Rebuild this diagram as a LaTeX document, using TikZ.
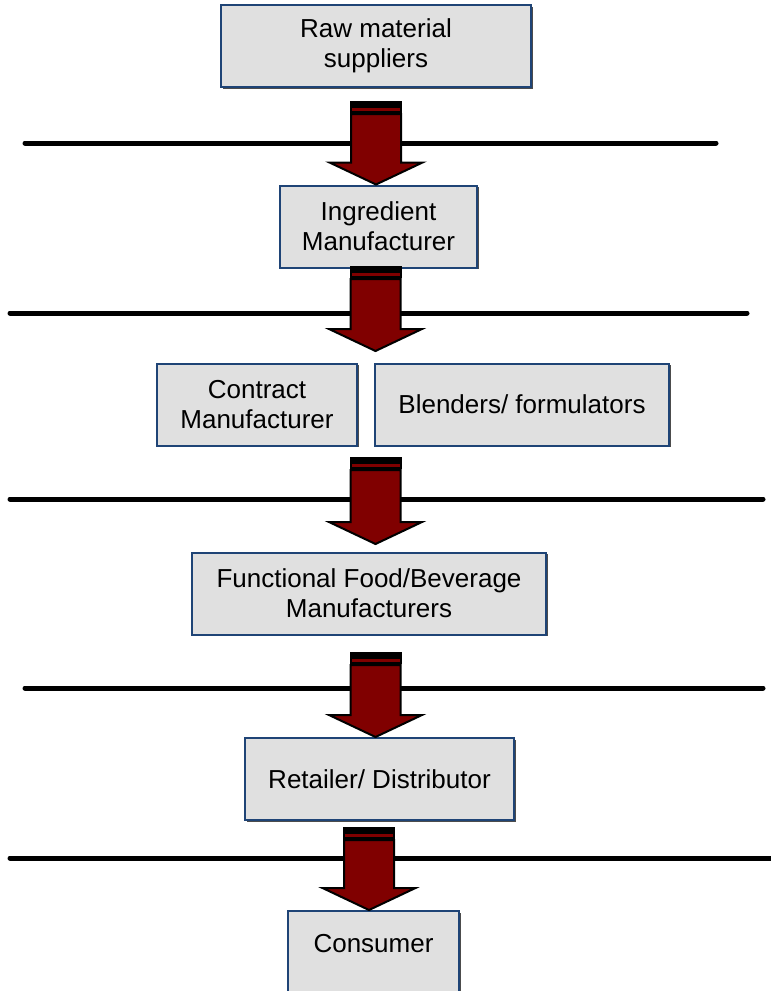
\documentclass[tikz,border=0pt]{standalone}
\usepackage{fontspec}
\setmainfont{Liberation Sans}
\usetikzlibrary{calc,shadows}
\definecolor{edge}{RGB}{31,68,118}
\definecolor{panel}{RGB}{224,224,224}
\definecolor{wine}{RGB}{128,0,0}
\tikzset{
  stage/.style={draw=edge,line width=2pt,fill=panel,inner sep=0pt,align=center,
    font=\fontsize{26}{30}\selectfont,minimum height=82pt,
    drop shadow={shadow xshift=1.5pt,shadow yshift=-1.5pt,fill=black!70,opacity=1}},
  tier/.style={line width=5pt,line cap=round},
  stripe/.style={draw=black,line width=2pt,fill=wine},
}
% striped block arrow: #1 tail top, #2 tip
\newcommand{\flowarrow}[2]{%
  \draw[stripe,fill=black] ($(#1)+(-25,0)$) rectangle ($(#1)+(25,4)$);
  \draw[stripe] ($(#1)+(-25,5)$) rectangle ($(#1)+(25,10)$);
  \draw[stripe] ($(#1)+(-25,12)$) -- ($(#2)+(-25,-22)$) -- ($(#2)+(-46.5,-22)$)
    -- (#2) -- ($(#2)+(46.5,-22)$) -- ($(#2)+(25,-22)$) -- ($(#1)+(25,12)$) -- cycle;
}

\begin{document}
\begin{tikzpicture}[x=1pt,y=-1pt]
\useasboundingbox (0,0) rectangle (771,991);
% tier lines
\foreach \y/\a/\b in {143/25/716,313/10/747,499/10/763,688/25/763,858/10/775}
  \draw[tier] (\a,\y) -- (\b,\y);
% stages
\node[stage,minimum width=310pt] (raw) at (376,46) {Raw material\\suppliers};
\node[stage,minimum width=197pt] (ingr) at (378.5,226.5) {Ingredient\\Manufacturer};
\node[stage,minimum width=200pt] (contract) at (257,404.5) {Contract\\Manufacturer};
\node[stage,minimum width=294pt] (blend) at (522,404.5) {Blenders/ formulators};
\node[stage,minimum width=354pt] (func) at (369,593.5) {Functional Food/Beverage\\Manufacturers};
\node[stage,minimum width=269pt] (retail) at (379.5,779) {Retailer/ Distributor};
\node[stage,minimum width=171pt,minimum height=90pt,text height=18pt,text depth=26pt]
  (cons) at (373.5,956) {Consumer};
% arrows
\coordinate (t1) at (376,102);
\coordinate (h1) at (t1 |- ingr.north);
\coordinate (t2) at (375.5,267);
\coordinate (h2) at (375.5,351);
\coordinate (t3) at (375.5,458);
\coordinate (h3) at (375.5,544);
\coordinate (t4) at (375.5,653);
\coordinate (h4) at (t4 |- retail.north);
\coordinate (t5) at (369,828);
\coordinate (h5) at (t5 |- cons.north);
\flowarrow{t1}{h1}
\flowarrow{t2}{h2}
\flowarrow{t3}{h3}
\flowarrow{t4}{h4}
\flowarrow{t5}{h5}
\end{tikzpicture}
\end{document}
